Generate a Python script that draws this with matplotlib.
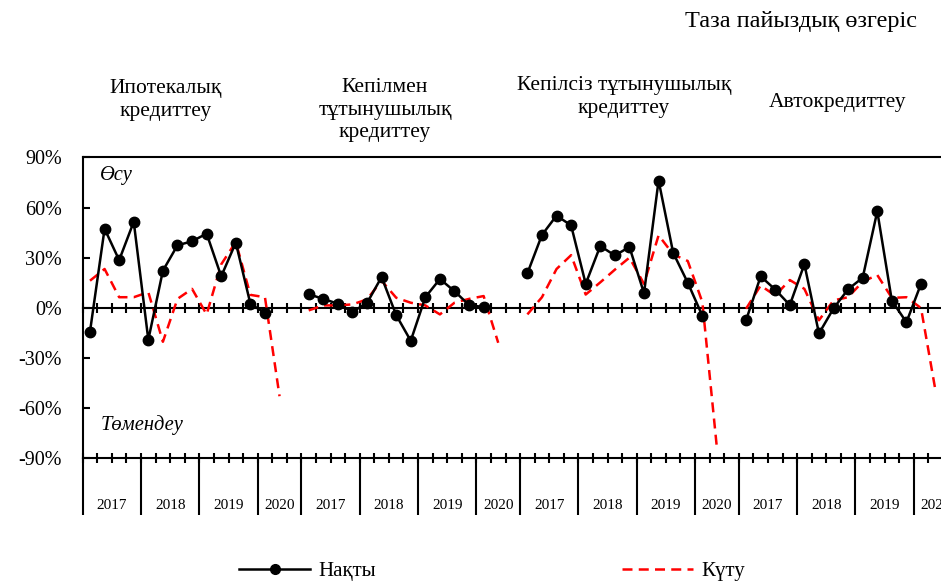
import numpy as np
import matplotlib
matplotlib.use("Agg")
import matplotlib.pyplot as plt
from matplotlib.lines import Line2D
import matplotlib.transforms as mtransforms

plt.rcParams['font.family'] = ['Liberation Serif', 'DejaVu Serif']
plt.rcParams['axes.unicode_minus'] = False

groups = ['Ипотекалық\nкредиттеу', 'Кепілмен\nтұтынушылық\nкредиттеу',
          'Кепілсіз тұтынушылық\nкредиттеу', 'Автокредиттеу']
years = ['2017', '2018', '2019', '2020']
year_slots = [4, 4, 4, 3]

# actual: 2017Q1..2020Q1, expected: 2017Q1..2020Q2
actual = [
    [-14.3, 47.3, 28.5, 51.5, -19.2, 22.2, 37.4, 39.8, 44.4, 18.8, 39.0, 2.4, -3.2],
    [8.1, 5.3, 2.4, -2.4, 2.8, 18.4, -4.4, -19.8, 6.3, 17.2, 9.9, 1.6, 0.4],
    [20.6, 43.6, 55.2, 49.3, 14.3, 37.0, 31.3, 36.4, 8.7, 76.2, 32.9, 15.0, -4.8],
    [-7.5, 18.8, 10.9, 1.6, 26.1, -15.4, -0.4, 11.1, 18.0, 57.8, 4.2, -8.7, 14.3],
]
expected = [
    [16.2, 23.2, 6.3, 6.3, 9.3, -20.4, 5.3, 11.3, -4.0, 26.0, 39.4, 7.7, 6.3, -53.0],
    [-1.6, 1.4, 1.4, 2.0, 5.0, 16.2, 6.0, 3.0, 1.4, -4.0, 3.0, 5.3, 7.0, -21.0],
    [-4.0, 6.3, 23.2, 31.5, 7.9, 15.2, 22.8, 30.0, 14.3, 43.4, 32.0, 28.0, 3.4, -84.0],
    [-0.6, 13.3, 7.3, 16.6, 11.3, -7.5, 4.4, 6.3, 15.6, 19.6, 5.9, 6.3, -0.2, -50.0],
]
yticks = [-90, -60, -30, 0, 30, 60, 90]

fig = plt.figure(figsize=(9.41, 5.82), dpi=100)
ax = fig.add_axes([0.0879, 0.2131, 0.9296, 0.5163])

n_slots = sum(year_slots)
for g in range(len(groups)):
    xa = g * n_slots + np.arange(len(actual[g])) + 0.5
    xe = g * n_slots + np.arange(len(expected[g])) + 0.5
    ax.plot(xe, expected[g], color='#ff0000', lw=1.8, linestyle=(0, (4, 2.5)), zorder=2)
    ax.plot(xa, actual[g], color='black', lw=1.8, marker='o', markersize=7.5, zorder=3)

ax.set_xlim(0, n_slots * len(groups))
ax.set_ylim(-90, 90)
ax.set_yticks(yticks)
ax.set_yticklabels([f'{v}%' for v in yticks], fontsize=14.5)
ax.tick_params(axis='y', direction='in', length=5, width=1.5, pad=15)

bounds = np.concatenate([[0], np.cumsum(year_slots)])
major = np.concatenate([g * n_slots + bounds[:-1] for g in range(len(groups))] + [[n_slots * len(groups)]])
ax.set_xticks(major)
ax.set_xticks(np.arange(n_slots * len(groups) + 1), minor=True)
ax.xaxis.remove_overlapping_locs = False
ax.tick_params(axis='x', which='major', direction='out', length=41, width=1.5, labelbottom=False)
ax.tick_params(axis='x', which='minor', direction='inout', length=7, width=1.5)

for s in ['left', 'bottom', 'top']:
    ax.spines[s].set_linewidth(1.5)
ax.spines['right'].set_visible(False)

# zero line with ticks
zero = ax.secondary_xaxis(0.5)
zero.set_xticks(np.arange(n_slots * len(groups) + 1))
zero.tick_params(direction='inout', length=7, width=1.5, labelbottom=False, labeltop=False)
zero.spines['bottom'].set_linewidth(1.5)
zero.spines['top'].set_linewidth(1.5)

trans = mtransforms.blended_transform_factory(ax.transData, ax.transAxes)
centers = (bounds[:-1] + bounds[1:]) / 2
for g in range(len(groups)):
    for y, c in zip(years, centers):
        ax.text(g * n_slots + c, -0.157, y, transform=trans, ha='center', va='center', fontsize=11)

title_x = [166, 385, 624, 838]
title_y = [100, 110, 97, 102]
for t, x, yc in zip(groups, title_x, title_y):
    fig.text(x / 941, 1 - yc / 582, t, ha='center', va='center', fontsize=15.5, linespacing=1.22)

fig.text(917 / 941, 1 - 22 / 582, 'Таза пайыздық өзгеріс', ha='right', va='center', fontsize=17.5)
ax.text(1.2, 79, 'Өсу', style='italic', fontsize=14.8, va='center')
ax.text(1.2, -70, 'Төмендеу', style='italic', fontsize=14.8, va='center')

handles = [Line2D([], [], color='black', lw=1.8, marker='o', markersize=7),
           Line2D([], [], color='#ff0000', lw=1.8, linestyle=(0, (4, 2.5)))]
fig.legend(handles, ['Нақты', 'Күту'], loc='center', bbox_to_anchor=(0.523, 0.018), ncol=2,
           frameon=False, fontsize=15, handlelength=3.4, columnspacing=11.8, handletextpad=0.4)

fig.savefig('out.png', dpi=100)
